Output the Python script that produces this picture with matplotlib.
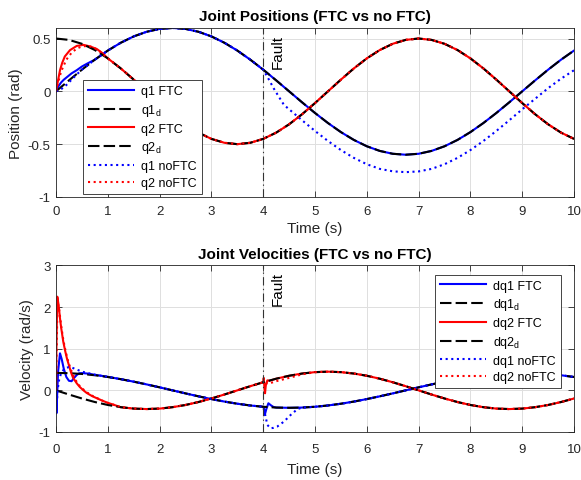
import matplotlib
matplotlib.use("Agg")
import matplotlib.pyplot as plt
import matplotlib.transforms as mtransforms

plt.rcParams['font.family'] = ['Liberation Sans', 'DejaVu Sans']
plt.rcParams['mathtext.fontset'] = 'custom'
plt.rcParams['mathtext.rm'] = 'Liberation Sans'
plt.rcParams['mathtext.it'] = 'Liberation Sans:italic'

# ---------------- data ----------------
t_grid = [0.00, 0.25, 0.50, 0.75, 1.00, 1.25, 1.50, 1.75, 2.00, 2.25, 2.50,
          2.75, 3.00, 3.25, 3.50, 3.75, 4.00, 4.25, 4.50, 4.75, 5.00, 5.25,
          5.50, 5.75, 6.00, 6.25, 6.50, 6.75, 7.00, 7.25, 7.50, 7.75, 8.00,
          8.25, 8.50, 8.75, 9.00, 9.25, 9.50, 9.75, 10.00]

q1_d = [0.000, 0.104, 0.205, 0.300, 0.386, 0.460, 0.520, 0.564, 0.591, 0.600,
        0.591, 0.564, 0.520, 0.460, 0.386, 0.300, 0.205, 0.104, 0.000, -0.104,
        -0.205, -0.300, -0.386, -0.460, -0.520, -0.564, -0.591, -0.600, -0.591,
        -0.564, -0.520, -0.460, -0.386, -0.300, -0.205, -0.104, 0.000, 0.104,
        0.205, 0.300, 0.386]
q2_d = [0.500, 0.487, 0.450, 0.391, 0.312, 0.217, 0.111, 0.000, -0.111, -0.217,
        -0.312, -0.391, -0.450, -0.487, -0.500, -0.487, -0.450, -0.391, -0.312,
        -0.217, -0.111, 0.000, 0.111, 0.217, 0.312, 0.391, 0.450, 0.487, 0.500,
        0.487, 0.450, 0.391, 0.312, 0.217, 0.111, 0.000, -0.111, -0.217, -0.312,
        -0.391, -0.450]
dq1_d = [0.419, 0.413, 0.394, 0.363, 0.321, 0.269, 0.209, 0.143, 0.073, 0.000,
         -0.073, -0.143, -0.209, -0.269, -0.321, -0.363, -0.394, -0.413, -0.419,
         -0.413, -0.394, -0.363, -0.321, -0.269, -0.209, -0.143, -0.073, 0.000,
         0.073, 0.143, 0.209, 0.269, 0.321, 0.363, 0.394, 0.413, 0.419, 0.413,
         0.394, 0.363, 0.321]
dq2_d = [0.000, -0.100, -0.195, -0.280, -0.351, -0.404, -0.438, -0.449, -0.438,
         -0.404, -0.351, -0.280, -0.195, -0.100, 0.000, 0.100, 0.195, 0.280,
         0.351, 0.404, 0.438, 0.449, 0.438, 0.404, 0.351, 0.280, 0.195, 0.100,
         0.000, -0.100, -0.195, -0.280, -0.351, -0.404, -0.438, -0.449, -0.438,
         -0.404, -0.351, -0.280, -0.195]

# start transients (positions)
q1_ftc_t0 = [0.0, 0.05, 0.10, 0.15, 0.20, 0.30, 0.40, 0.50, 0.60]
q1_ftc_v0 = [0.0, 0.050, 0.085, 0.110, 0.130, 0.170, 0.200, 0.235, 0.262]
q2_ftc_t0 = [0.0, 0.03, 0.077, 0.12, 0.17, 0.27, 0.40, 0.53, 0.66, 0.79, 0.90]
q2_ftc_v0 = [0.0, 0.08, 0.20, 0.27, 0.33, 0.39, 0.43, 0.44, 0.425, 0.40, 0.36]
q1_nof_t0 = [0.0, 0.10, 0.20, 0.30, 0.40]
q1_nof_v0 = [0.0, 0.02, 0.06, 0.11, 0.16]
q1_nof_tf = [4.10, 4.20, 4.30, 4.40]
q1_nof_vf = [0.12, 0.03, -0.05, -0.128]
q1_nof_tail = [-0.170, -0.274, -0.375, -0.470, -0.556, -0.630, -0.690, -0.734,
               -0.757, -0.765, -0.758, -0.734, -0.690, -0.630, -0.556, -0.470,
               -0.375, -0.274, -0.170, -0.070, 0.030, 0.120, 0.200]
q2_nof_t0 = [0.0, 0.05, 0.10, 0.20, 0.30, 0.40, 0.50, 0.60, 0.70, 0.80, 0.90]
q2_nof_v0 = [0.0, 0.10, 0.19, 0.30, 0.365, 0.405, 0.425, 0.43, 0.42, 0.395, 0.355]

# transients (velocities)
dq1_ftc_t0 = [0.0, 0.008, 0.04, 0.077, 0.11, 0.15, 0.20, 0.25, 0.30, 0.35, 0.40,
              0.45, 0.50, 0.60, 0.75, 1.00]
dq1_ftc_v0 = [0.0, -0.55, 0.45, 0.89, 0.75, 0.52, 0.32, 0.23, 0.22, 0.30, 0.37,
              0.41, 0.415, 0.405, 0.375, 0.325]
dq1_ftc_tf = [4.00, 4.01, 4.03, 4.06, 4.10, 4.15, 4.20]
dq1_ftc_vf = [-0.394, -0.40, -0.59, -0.45, -0.31, -0.36, -0.40]
dq1_nof_t0 = [0.0, 0.008, 0.03, 0.06, 0.10, 0.15, 0.20, 0.25, 0.30, 0.40, 0.50,
              0.60, 0.75, 1.00]
dq1_nof_v0 = [0.0, -0.50, 0.0, 0.25, 0.42, 0.50, 0.54, 0.56, 0.55, 0.50, 0.45,
              0.42, 0.375, 0.325]
dq1_nof_tf = [4.04, 4.08, 4.14, 4.20, 4.27, 4.40, 4.53, 4.66]
dq1_nof_vf = [-0.60, -0.83, -0.91, -0.90, -0.87, -0.75, -0.59, -0.45]
dq2_ftc_t0 = [0.0, 0.01, 0.025, 0.05, 0.077, 0.10, 0.14, 0.18, 0.21, 0.25, 0.29,
              0.33, 0.40, 0.46, 0.53, 0.59, 0.70, 0.79, 0.90, 1.00, 1.10]
dq2_ftc_v0 = [0.0, 1.20, 2.25, 2.05, 1.73, 1.50, 1.17, 0.93, 0.77, 0.60, 0.43,
              0.30, 0.17, 0.08, 0.00, -0.06, -0.14, -0.19, -0.25, -0.30, -0.34]
dq2_ftc_tf = [4.00, 4.01, 4.025, 4.035, 4.05, 4.08, 4.12]
dq2_ftc_vf = [0.195, 0.30, 0.05, -0.07, 0.12, 0.24, 0.23]
dq2_nof_t0 = [0.0, 0.012, 0.03, 0.055, 0.08, 0.10, 0.14, 0.18, 0.22, 0.26, 0.30,
              0.35, 0.40, 0.46, 0.53, 0.60, 0.70, 0.80, 0.90, 1.00, 1.10]
dq2_nof_v0 = [0.0, 1.00, 2.12, 2.00, 1.75, 1.55, 1.22, 0.97, 0.76, 0.60, 0.46,
              0.32, 0.20, 0.10, 0.02, -0.05, -0.13, -0.19, -0.25, -0.30, -0.34]
dq2_nof_tf = [4.10, 4.25, 4.50, 4.75]
dq2_nof_vf = [0.16, 0.22, 0.30, 0.385]

x_ticks = [0, 1, 2, 3, 4, 5, 6, 7, 8, 9, 10]
x_ticklabels = ['0', '1', '2', '3', '4', '5', '6', '7', '8', '9', '10']
pos_yticks = [-1, -0.5, 0, 0.5]
pos_yticklabels = ['-1', '-0.5', '0', '0.5']
vel_yticks = [-1, 0, 1, 2, 3]
vel_yticklabels = ['-1', '0', '1', '2', '3']
fault_time = 4.0

pos_labels = ['q1 FTC', 'q1$_{\\mathrm{d}}$', 'q2 FTC', 'q2$_{\\mathrm{d}}$',
              'q1 noFTC', 'q2 noFTC']
vel_labels = ['dq1 FTC', 'dq1$_{\\mathrm{d}}$', 'dq2 FTC', 'dq2$_{\\mathrm{d}}$',
              'dq1 noFTC', 'dq2 noFTC']

# ---------------- assemble series ----------------
T = t_grid
q1_ftc = (q1_ftc_t0 + T[3:], q1_ftc_v0 + q1_d[3:])
q2_ftc = (q2_ftc_t0 + T[4:], q2_ftc_v0 + q2_d[4:])
q1_nof = (q1_nof_t0 + T[2:17] + q1_nof_tf + T[18:],
          q1_nof_v0 + q1_d[2:17] + q1_nof_vf + q1_nof_tail)
q2_nof = (q2_nof_t0 + T[4:], q2_nof_v0 + q2_d[4:])

dq1_ftc = (dq1_ftc_t0 + T[5:16] + dq1_ftc_tf + T[17:],
           dq1_ftc_v0 + dq1_d[5:16] + dq1_ftc_vf + dq1_d[17:])
dq2_ftc = (dq2_ftc_t0 + T[5:16] + dq2_ftc_tf + T[17:],
           dq2_ftc_v0 + dq2_d[5:16] + dq2_ftc_vf + dq2_d[17:])
dq1_nof = (dq1_nof_t0 + T[5:17] + dq1_nof_tf + T[19:],
           dq1_nof_v0 + dq1_d[5:17] + dq1_nof_vf + dq1_d[19:])
dq2_nof = (dq2_nof_t0 + T[5:17] + dq2_nof_tf + T[20:],
           dq2_nof_v0 + dq2_d[5:17] + dq2_nof_vf + dq2_d[20:])

# ---------------- figure ----------------
DARK = '#262626'
fig = plt.figure(figsize=(5.81, 4.81), dpi=100)
fig.patch.set_facecolor('white')
ax1 = fig.add_axes([0.0964, 0.5884, 0.8916, 0.3514])
ax2 = fig.add_axes([0.0964, 0.0998, 0.8916, 0.3462])

LW = 1.5
dash = (5.5, 2.0)
dot = (1.0, 1.7)


def draw(ax, ftc1, d1, ftc2, d2, nof1, nof2, labels):
    ax.plot(*ftc1, color='#0000ff', lw=LW, label=labels[0])
    ax.plot(T, d1, color='black', lw=LW, linestyle=(0, dash), label=labels[1])
    ax.plot(*ftc2, color='#ff0000', lw=LW, label=labels[2])
    ax.plot(T, d2, color='black', lw=LW, linestyle=(0, dash), label=labels[3])
    ax.plot(*nof1, color='#0000ff', lw=LW, linestyle=(0, dot), label=labels[4])
    ax.plot(*nof2, color='#ff0000', lw=LW, linestyle=(0, dot), label=labels[5])
    ax.axvline(fault_time, color='#333333', lw=0.8,
               linestyle=(0, (7.5, 3.0, 1.2, 3.0)))
    off = mtransforms.offset_copy(ax.get_xaxis_transform(), fig=fig,
                                  x=8, y=-6, units='dots')
    ax.text(fault_time, 1.0, 'Fault', transform=off, rotation=90,
            ha='left', va='top', fontsize=11, color='black')


def style(ax, yticks, yticklabels, ylim, ylabel, title, xpad, lpad):
    ax.set_xlim(0, 10)
    ax.set_ylim(*ylim)
    ax.set_xticks(x_ticks)
    ax.set_xticklabels(x_ticklabels)
    ax.set_yticks(yticks)
    ax.set_yticklabels(yticklabels)
    ax.set_axisbelow(True)
    ax.grid(True, color='#dfdfdf', lw=0.7)
    for s in ax.spines.values():
        s.set_color(DARK)
        s.set_linewidth(0.6)
    ax.tick_params(direction='in', top=True, right=True, length=4,
                   width=0.6, color=DARK, labelcolor=DARK, labelsize=9.5)
    ax.tick_params(axis='x', pad=xpad)
    ax.tick_params(axis='y', pad=4)
    ax.set_xlabel('Time (s)', fontsize=11, color=DARK, labelpad=lpad)
    ax.set_ylabel(ylabel, fontsize=11, color=DARK, labelpad=3)
    ax.set_title(title, fontsize=11, fontweight='bold', color='black', pad=5.5)


draw(ax1, q1_ftc, q1_d, q2_ftc, q2_d, q1_nof, q2_nof, pos_labels)
style(ax1, pos_yticks, pos_yticklabels, (-1, 0.6), 'Position (rad)',
      'Joint Positions (FTC vs no FTC)', 5.5, 3.5)
draw(ax2, dq1_ftc, dq1_d, dq2_ftc, dq2_d, dq1_nof, dq2_nof, vel_labels)
style(ax2, vel_yticks, vel_yticklabels, (-1, 3), 'Velocity (rad/s)',
      'Joint Velocities (FTC vs no FTC)', 8.0, 5.0)

leg_kw = dict(fontsize=9, handlelength=3.65, handletextpad=0.6,
              labelspacing=0.38, borderpad=0.4, borderaxespad=0,
              fancybox=False, edgecolor=DARK, framealpha=1)
lg1 = ax1.legend(loc='lower left', bbox_to_anchor=(0.052, 0.018), **leg_kw)
lg2 = ax2.legend(loc='upper right', bbox_to_anchor=(0.975, 0.945), **leg_kw)
for lg in (lg1, lg2):
    lg.get_frame().set_linewidth(0.6)
    for txt in lg.get_texts():
        txt.set_color('black')

fig.savefig('out.png', dpi=100, facecolor='white')
